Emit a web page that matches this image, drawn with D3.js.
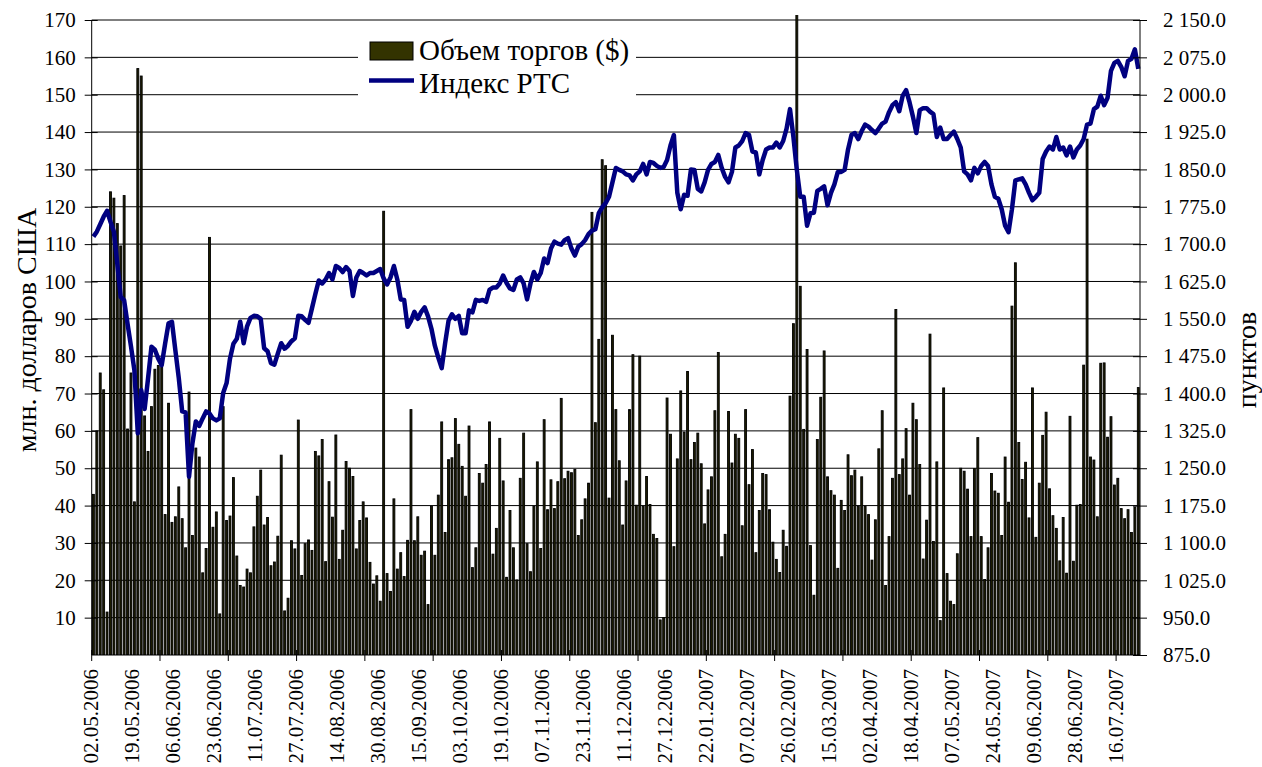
<!DOCTYPE html>
<html>
<head>
<meta charset="utf-8">
<script src="https://cdn.jsdelivr.net/npm/d3@7"></script>
<style>
  body { margin: 0; background: #fff; }
  text { font-family: "Liberation Serif", "Times New Roman", serif; fill: #000; }
</style>
</head>
<body>
<div id="chart"></div>
<script>
// daily trading volume, mln USD (one value per trading day, 02.05.2006 - 24.07.2007)
var volume = [
  43, 60, 75.5, 71, 11.5, 124, 122.3, 115.5, 109.5, 123, 60.5, 75.5, 41, 157, 155, 64, 54.5, 66.5, 76.5, 77.5,
  77, 37.6, 67.4, 35.5, 37, 45, 36.5, 28.7, 70.4, 32, 55.4, 53, 22, 28.5, 111.8, 34.2, 38.3, 11, 66.5, 36,
  37.2, 47.5, 26.5, 18.6, 18.2, 23, 22, 34.3, 42.5, 49.5, 34.8, 36.8, 23.9, 24.9, 31.8, 53.5, 11.8, 15.2, 30.6, 28.4,
  62.9, 21.3, 29.8, 30.8, 28, 54.5, 53.3, 57.7, 25, 46.4, 36.9, 58.9, 25.6, 33.4, 51.8, 50, 47.8, 28.4, 36, 41,
  36.7, 24.8, 19, 21.2, 14.4, 118.8, 21.8, 17, 41.8, 23, 27.4, 21, 30.7, 65.7, 30.6, 37, 26.7, 27.8, 13.5, 39.8,
  26.7, 42.8, 62.4, 32.8, 52.3, 52.8, 63.3, 56.4, 50.5, 42.5, 61.3, 23.4, 28.7, 48.6, 46, 51, 62.4, 27, 33.9, 58,
  46.6, 20.8, 38.7, 28.7, 20.1, 47.3, 59.4, 29.8, 22.3, 39.8, 51.7, 28.5, 63, 38.9, 46.9, 39.2, 46.4, 68.7, 47.2, 49.2,
  48.8, 49.7, 32, 36.2, 41.8, 46, 118.5, 62.2, 84.5, 132.6, 131, 42, 85.6, 65.7, 52, 34.8, 46.6, 65.7, 80.4, 40.1,
  80, 39.8, 47.8, 40.3, 32.3, 31.2, 9.4, 10, 68.8, 59.1, 29, 52.5, 70.7, 59.7, 75.9, 52.3, 56.9, 59.4, 51.2, 35.1,
  44.2, 47.7, 65.4, 81, 26.3, 32.3, 65.2, 51.4, 59.1, 58, 34.6, 65.7, 45.6, 55, 27.4, 38.7, 48.6, 48.3, 38.9, 30.2,
  25.6, 22.1, 33.4, 29.1, 69.3, 88.7, 172, 98.7, 60.4, 81.8, 29.3, 16, 57.7, 69, 81.4, 47.7, 44, 42.8, 23.2, 41.4,
  38.7, 53.6, 48, 49.5, 39.8, 47.7, 39.8, 37.6, 25.4, 36.2, 55.2, 65.4, 18.6, 31.7, 47.3, 92.5, 48.3, 52.5, 60.6, 42.8,
  67.4, 63, 51, 25.7, 36.1, 85.9, 30.4, 51.7, 9.2, 71.5, 21.8, 14.4, 13.5, 27.1, 50, 49.2, 44.4, 31.7, 49.9, 58.2,
  31.7, 20.2, 28.7, 48.6, 43.9, 43.3, 32, 53, 40.9, 93.4, 105, 56.9, 47, 51.6, 36.7, 71.5, 31.5, 46, 58.8, 65,
  44.5, 37.3, 33.9, 25.2, 36.8, 21.9, 63.9, 25.1, 40.1, 40.3, 77.6, 138.1, 53, 52.2, 37, 78.1, 78.2, 58.3, 63.8, 45.5,
  47.3, 39.2, 36.5, 38.9, 32.8, 39.6, 71.6
];

// RTS index, points
var rts = [
  1715, 1725, 1740, 1755, 1767, 1745, 1725, 1660, 1594, 1587, 1540, 1495, 1447, 1320, 1407, 1369, 1430, 1494, 1488, 1470,
  1457, 1500, 1541, 1544, 1487, 1431, 1364, 1362, 1233, 1300, 1344, 1335, 1350, 1364, 1360, 1350, 1346, 1350, 1401, 1421,
  1470, 1500, 1510, 1544, 1501, 1535, 1552, 1556, 1555, 1550, 1491, 1485, 1461, 1458, 1480, 1501, 1490, 1496, 1505, 1511,
  1556, 1555, 1548, 1542, 1571, 1600, 1627, 1621, 1629, 1642, 1629, 1656, 1652, 1644, 1654, 1646, 1596, 1633, 1646, 1642,
  1637, 1642, 1642, 1646, 1650, 1631, 1619, 1633, 1656, 1629, 1589, 1588, 1534, 1546, 1564, 1550, 1564, 1573, 1555, 1530,
  1496, 1472, 1451, 1501, 1546, 1559, 1550, 1556, 1521, 1521, 1567, 1563, 1588, 1586, 1588, 1584, 1608, 1613, 1613, 1621,
  1637, 1622, 1611, 1608, 1629, 1633, 1621, 1589, 1621, 1644, 1629, 1642, 1671, 1662, 1691, 1705, 1701, 1699, 1708, 1712,
  1691, 1677, 1695, 1700, 1708, 1720, 1727, 1730, 1762, 1774, 1782, 1795, 1824, 1853, 1849, 1846, 1840, 1838, 1828, 1840,
  1846, 1861, 1840, 1865, 1863, 1857, 1853, 1855, 1869, 1898, 1919, 1803, 1770, 1799, 1797, 1850, 1849, 1811, 1806, 1824,
  1849, 1861, 1865, 1879, 1853, 1835, 1824, 1845, 1894, 1898, 1907, 1923, 1919, 1886, 1884, 1840, 1869, 1890, 1894, 1894,
  1904, 1894, 1907, 1932, 1971, 1915, 1849, 1795, 1795, 1737, 1762, 1763, 1807, 1811, 1816, 1778, 1803, 1820, 1845, 1845,
  1849, 1890, 1919, 1923, 1911, 1927, 1940, 1936, 1929, 1923, 1932, 1942, 1946, 1965, 1979, 1985, 1967, 1998, 2009, 1985,
  1956, 1923, 1969, 1973, 1973, 1966, 1961, 1915, 1934, 1911, 1911, 1919, 1926, 1911, 1894, 1846, 1840, 1828, 1853, 1842,
  1857, 1865, 1857, 1820, 1795, 1791, 1770, 1737, 1724, 1770, 1828, 1830, 1832, 1820, 1803, 1788, 1795, 1803, 1871, 1886,
  1896, 1890, 1915, 1890, 1894, 1878, 1896, 1874, 1890, 1898, 1911, 1940, 1942, 1971, 1976, 1998, 1979, 1994, 2048, 2064,
  2068, 2056, 2037, 2068, 2072, 2091, 2052
];

// every 12th trading day is labelled
var labelDates = [
  "02.05.2006", "19.05.2006", "06.06.2006", "23.06.2006", "11.07.2006", "27.07.2006", "14.08.2006",
  "30.08.2006", "15.09.2006", "03.10.2006", "19.10.2006", "07.11.2006", "23.11.2006", "11.12.2006",
  "27.12.2006", "22.01.2007", "07.02.2007", "26.02.2007", "15.03.2007", "02.04.2007", "18.04.2007",
  "07.05.2007", "24.05.2007", "09.06.2007", "28.06.2007", "16.07.2007"
];
var labelStep = 12, tickStep = 20;

var seriesNames = ["Объем торгов ($)", "Индекс РТС"];

var width = 1262, height = 767;
var plotL = 91.7, plotR = 1140, plotT = 20, plotB = 655;

var svg = d3.select("#chart").append("svg")
    .attr("width", width)
    .attr("height", height);

var x = d3.scaleBand().domain(d3.range(volume.length)).range([plotL, plotR]);
var bw = x.bandwidth();
var yL = d3.scaleLinear().domain([0, 170]).range([plotB, plotT]);
var yR = d3.scaleLinear().domain([875, 2150]).range([plotB, plotT]);

var ru = d3.formatLocale({decimal: ".", thousands: "\u00a0", grouping: [3], currency: ["", ""]});
var fmtR = ru.format(",.1f");

// grid
svg.append("g").selectAll("line")
    .data(d3.range(10, 171, 10))
    .enter().append("line")
    .attr("x1", plotL).attr("x2", plotR)
    .attr("y1", function(d) { return yL(d); })
    .attr("y2", function(d) { return yL(d); })
    .attr("stroke", "#000").attr("stroke-width", 1);

svg.append("clipPath").attr("id", "plot")
  .append("rect").attr("x", plotL).attr("y", 15).attr("width", plotR - plotL).attr("height", plotB - 15);

// bars: at this width the black outline swallows the olive fill, as in the original
svg.append("g").attr("clip-path", "url(#plot)")
  .selectAll("rect")
    .data(volume)
    .enter().append("rect")
    .attr("x", function(d, i) { return x(i) + bw * 0.22; })
    .attr("width", bw * 0.56)
    .attr("y", function(d) { return yL(d); })
    .attr("height", function(d) { return plotB - yL(d); })
    .attr("fill", "#1c1c00")
    .attr("stroke", "#000")
    .attr("stroke-width", 0.9);

// RTS line
var line = d3.line()
    .x(function(d, i) { return x(i) + bw / 2; })
    .y(function(d) { return yR(d); });

svg.append("path")
    .datum(rts)
    .attr("d", line)
    .attr("fill", "none")
    .attr("stroke", "#000080")
    .attr("stroke-width", 4.5)
    .attr("stroke-linejoin", "round");

// left axis
var axL = svg.append("g")
    .attr("transform", "translate(" + plotL + ",0)")
    .call(d3.axisLeft(yL).tickValues(d3.range(10, 171, 10)).tickSize(7).tickPadding(9));
axL.select(".domain").attr("d", "M0," + plotT + "V" + plotB).attr("stroke", "#000");
axL.selectAll(".tick line").attr("x1", 6).attr("stroke", "#000");
axL.selectAll(".tick text").style("font-size", "21px").style("font-family", "Liberation Serif");

// right axis
var axR = svg.append("g")
    .attr("transform", "translate(" + plotR + ",0)")
    .call(d3.axisRight(yR).tickValues(d3.range(875, 2151, 75)).tickSize(7).tickFormat(fmtR).tickPadding(16));
axR.select(".domain").attr("d", "M0," + plotT + "V" + plotB).attr("stroke", "#000");
axR.selectAll(".tick line").attr("x1", -7).attr("stroke", "#000");
axR.selectAll(".tick text").style("font-size", "21px").style("font-family", "Liberation Serif");

// bottom axis
svg.append("line")
    .attr("x1", plotL).attr("x2", plotR)
    .attr("y1", plotB).attr("y2", plotB)
    .attr("stroke", "#000");

svg.append("g").selectAll("line")
    .data(d3.range(0, volume.length, tickStep))
    .enter().append("line")
    .attr("x1", function(d) { return x(d); })
    .attr("x2", function(d) { return x(d); })
    .attr("y1", plotB - 5).attr("y2", plotB + 6)
    .attr("stroke", "#000");

svg.append("g").selectAll("text")
    .data(labelDates)
    .enter().append("text")
    .attr("transform", function(d, k) {
        return "translate(" + (x(k * labelStep) + bw / 2 + 5) + "," + (plotB + 14) + ") rotate(-90)";
    })
    .attr("text-anchor", "end")
    .style("font-size", "21px")
    .text(function(d) { return d; });

// axis titles
svg.append("text")
    .attr("transform", "translate(36,330) rotate(-90)")
    .attr("text-anchor", "middle")
    .style("font-size", "28px")
    .text("млн. долларов США");

svg.append("text")
    .attr("transform", "translate(1256,360) rotate(-90)")
    .attr("text-anchor", "middle")
    .style("font-size", "28px")
    .text("пунктов");

// legend
var lg = svg.append("g").attr("transform", "translate(358,30)");
lg.append("rect").attr("width", 278).attr("height", 67).attr("fill", "#fff");
lg.append("rect")
    .attr("x", 12).attr("y", 12).attr("width", 43).attr("height", 18)
    .attr("fill", "#333300").attr("stroke", "#000");
lg.append("line")
    .attr("x1", 11).attr("x2", 56).attr("y1", 50.5).attr("y2", 50.5)
    .attr("stroke", "#000080").attr("stroke-width", 4.5);
lg.selectAll("text.lg")
    .data(seriesNames)
    .enter().append("text")
    .attr("class", "lg")
    .attr("x", 61)
    .attr("y", function(d, i) { return 30 + i * 33; })
    .style("font-size", "29px")
    .text(function(d) { return d; });
</script>
</body>
</html>
